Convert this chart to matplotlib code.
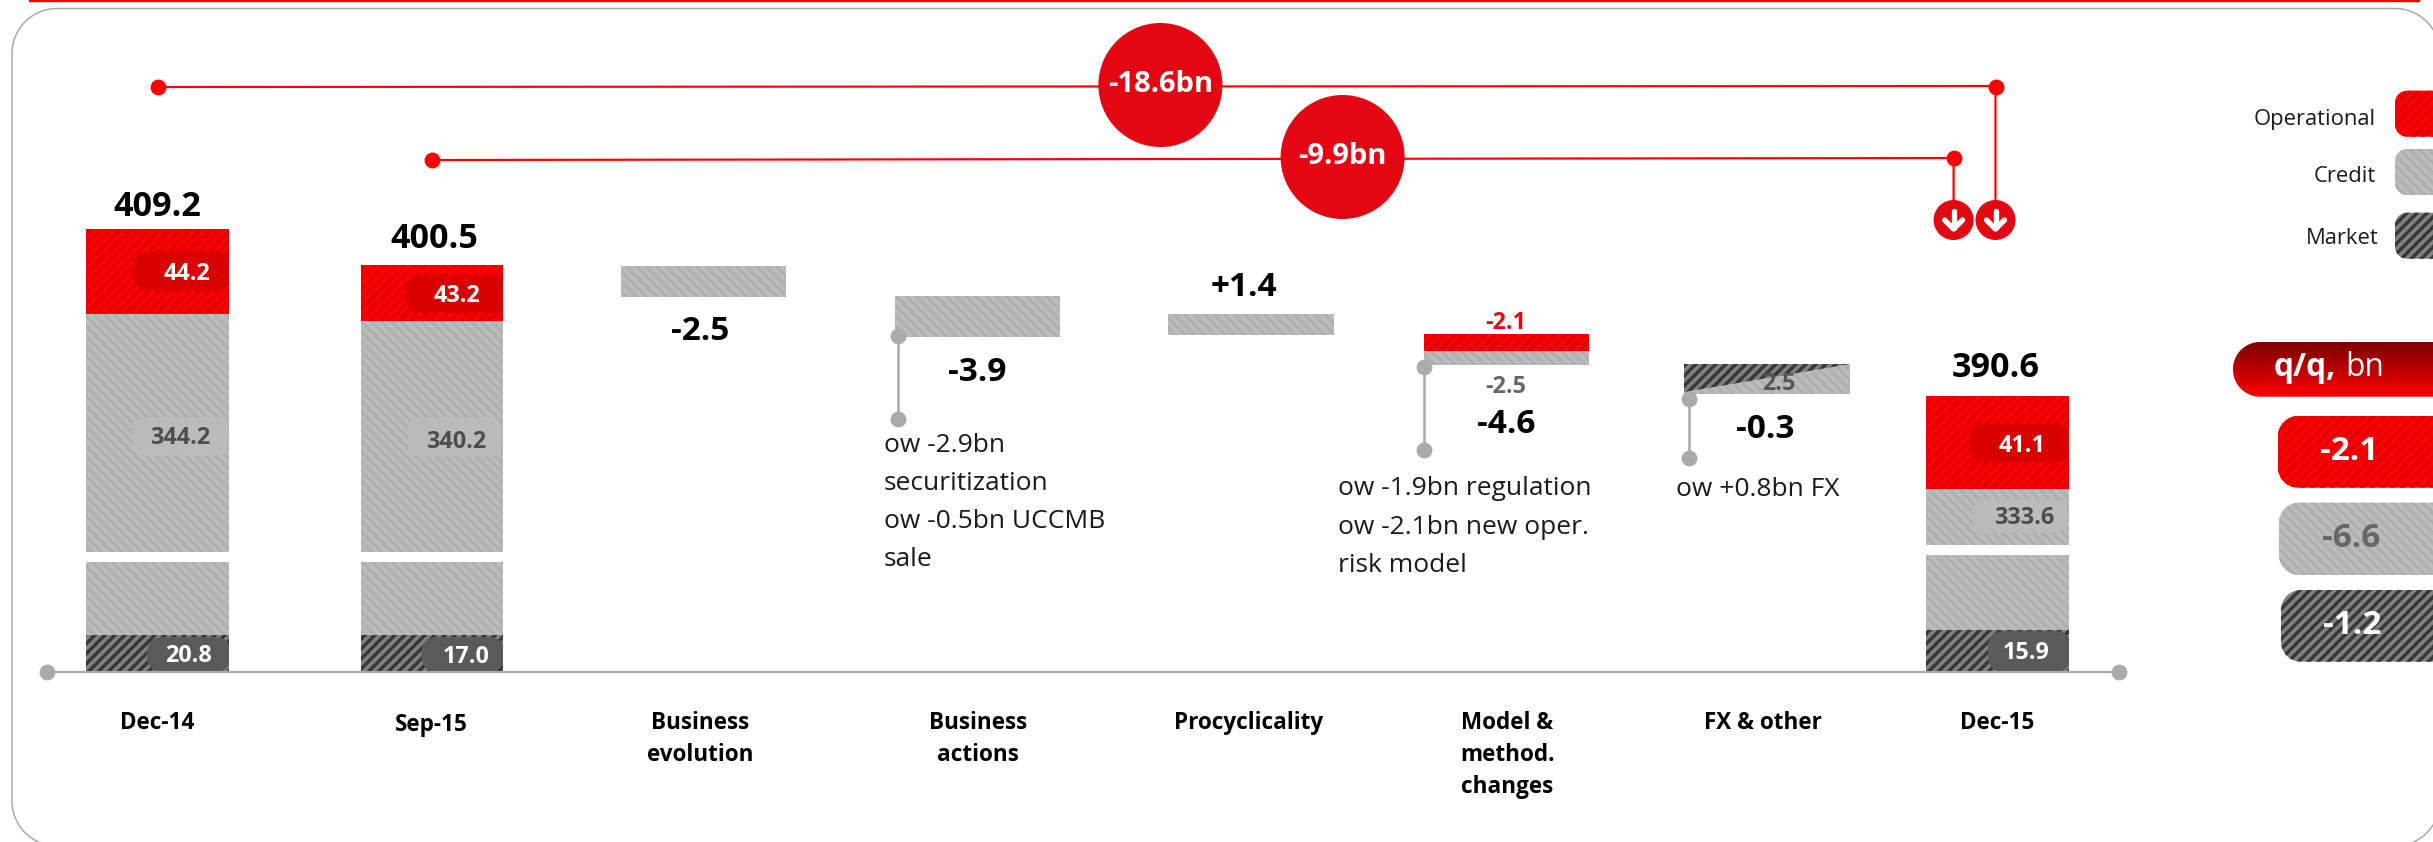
import numpy as np
import matplotlib
matplotlib.use("Agg")
import matplotlib.pyplot as plt
from matplotlib.patches import FancyBboxPatch, Polygon
from matplotlib.colors import LinearSegmentedColormap

plt.rcParams['font.family'] = ['Open Sans', 'DejaVu Sans']
plt.rcParams['hatch.linewidth'] = 2.1

# Data: the chart is not to scale, so drawn heights are read separately from labels
stack_names = ["Dec-14", "Sep-15", "Dec-15"]
stack_totals = ["409.2", "400.5", "390.6"]
operational = ["44.2", "43.2", "41.1"]
credit = ["344.2", "340.2", "333.6"]
market = ["20.8", "17.0", "15.9"]
market_h = [37, 37, 42]
credit_low_h = [73, 73, 75]
credit_high_h = [238, 231, 56]
operational_h = [85, 56, 93]

step_names = ["Business\nevolution", "Business\nactions", "Procyclicality",
              "Model &\nmethod.\nchanges", "FX & other"]
step_labels = ["-2.5", "-3.9", "+1.4", "-4.6", "-0.3"]
step_tops = [266, 296, 314, 334, 364]
step_heights = [31, 41, 21, 31, 30]
model_split_h = 17  # red part of the model bar

notes = ["ow -2.9bn\nsecuritization\now -0.5bn UCCMB\nsale",
         "ow -1.9bn regulation\now -2.1bn new oper.\nrisk model",
         "ow +0.8bn FX"]
bubbles = ["-18.6bn", "-9.9bn"]
legend_names = ["Operational", "Credit", "Market"]
qq_values = ["-2.1", "-6.6", "-1.2"]

# Styles
RED, RED_ST, RED_PILL = "#ff0000", "#e20000", "#d90000"
GREY, GREY_ST, GREY_PILL = "#bcbcbc", "#b0b0b0", "#bbbbbb"
DARK, DARK_ST, DARK_PILL = "#808080", "#383838", "#5a5a5a"
FWD, BACK = "////", "\\\\\\\\"
BUBBLE = "#e30613"
LINE_GREY = "#aaaaaa"
base = 672.4

fig = plt.figure(figsize=(2433 / 120, 842 / 120), dpi=120)
ax = fig.add_axes([0, 0, 1, 1])
ax.set_xlim(0, 2433)
ax.set_ylim(842, 0)
ax.axis("off")


def hbar(x0, x1, top, h, color, stripe, hatch, z=2):
    return ax.bar(x0, h, width=x1 - x0, bottom=top, align="edge", color=color, edgecolor=stripe,
                  hatch=hatch, linewidth=0, zorder=z)[0]


def pill(x0, x1, y0, y1, r, color, clip=None, z=3):
    p = FancyBboxPatch((x0, y0), x1 - x0, y1 - y0, boxstyle=f"round,pad=0,rounding_size={r}",
                       facecolor=color, linewidth=0, zorder=z)
    ax.add_patch(p)
    if clip is not None:
        p.set_clip_path(clip)
    return p


def corner_pts(x0, y0, y1, r):
    # left side of a box running off the right edge of the canvas
    t = np.linspace(0, np.pi / 2, 16)
    top = [(x0 + r - r * np.cos(a), y0 + r - r * np.sin(a)) for a in t]
    bottom = [(x0 + r - r * np.sin(a), y1 - r + r * np.cos(a)) for a in t]
    return bottom + top


def edge_box(x0, y0, y1, r, color, stripe=None, hatch=None, z=3):
    pts = [(2433, y1)] + corner_pts(x0, y0, y1, r) + [(2433, y0)]
    p = Polygon(pts, closed=True, facecolor=color, edgecolor=stripe if stripe else color,
                hatch=hatch, linewidth=0, zorder=z)
    ax.add_patch(p)
    return p


def txt(x, y, s, size, color="black", weight="normal", ha="center", z=6):
    # +3: Open Sans sits a little higher than the original face
    return ax.text(x, y + 3, s, fontsize=size, color=color, fontweight=weight, ha=ha, va="center", zorder=z)


# frame and top rule
a = np.linspace(0, np.pi / 2, 24)
fx0, fx1, fy0, fy1, fr = 12, 2440, 8.5, 846, 45
frame_x = np.r_[fx0 + fr - fr * np.sin(a), fx0 + fr - fr * np.cos(a), fx1 - fr + fr * np.sin(a), fx1 - fr + fr * np.cos(a)]
frame_y = np.r_[fy1 - fr + fr * np.cos(a), fy0 + fr - fr * np.sin(a), fy0 + fr - fr * np.cos(a), fy1 - fr + fr * np.sin(a)]
ax.plot(frame_x, frame_y, color="#a8a8a8", lw=0.9, zorder=1)
ax.plot([30, 2419], [0.5, 0.5], color=RED, lw=1.4, zorder=1)

# baseline
ax.plot([47.4, 2119.4], [base, base], color=LINE_GREY, lw=1.3, zorder=4, solid_capstyle="butt")
ax.plot([47.4, 2119.4], [base, base], "o", color=LINE_GREY, ms=9.5, mew=0, zorder=4)

# stacked bars
stack_x = [(86, 229), (361, 503), (1926, 2069)]
total_pos = [(157, 204), (434, 236), (1996, 365)]
name_pos = [(157, 719.6), (431, 721.8), (1997.5, 719.6)]
op_pill = [(133, 251.7, 290.7, 186.7, 271.7), (405.6, 275.5, 313, 456.6, 294.3), (1969.6, 424, 462, 2022.5, 443.6)]
cr_pill = [(133, 417.8, 455.4, 180, 435.5), (408, 418, 456.5, 456.6, 439.8), (1973.6, 499.5, 532.8, 2024, 516)]
mk_pill = [(147, 637, 672, 189, 653.6), (421.4, 637, 672, 466, 654.7), (1988, 631, 672, 2025.8, 651)]
gap = 10.5

for i in range(3):
    x0, x1 = stack_x[i]
    mk_top = base - market_h[i]
    low_top = mk_top - credit_low_h[i]
    high_top = low_top - gap - credit_high_h[i]
    op_top = high_top - operational_h[i]
    mk_bar = hbar(x0, x1, mk_top, market_h[i], DARK, DARK_ST, FWD)
    hbar(x0, x1, low_top, credit_low_h[i], GREY, GREY_ST, BACK)
    cr_bar = hbar(x0, x1, high_top, credit_high_h[i], GREY, GREY_ST, BACK)
    op_bar = hbar(x0, x1, op_top, operational_h[i], RED, RED_ST, FWD)

    px, py0, py1, tx, ty = op_pill[i]
    pill(px, x1 + 2, py0, py1, 17, RED_PILL, clip=op_bar)
    txt(tx, ty - 1, operational[i], 14, "white", "bold")
    px, py0, py1, tx, ty = cr_pill[i]
    pill(px, x1 - 1, py0, py1, 12, GREY_PILL, clip=cr_bar)
    txt(tx, ty - 1, credit[i], 14, "#4d4d4d", "bold")
    px, py0, py1, tx, ty = mk_pill[i]
    pill(px, x1 + 2, py0, py1, 17, DARK_PILL, clip=mk_bar)
    txt(tx, ty - 1, market[i], 14, "white", "bold")

    txt(*total_pos[i], stack_totals[i], 20.5, weight="bold")
    txt(*name_pos[i], stack_names[i], 13.5, weight="bold")

# floating steps
step_x = [(621, 786), (895, 1060), (1168, 1334), (1424, 1588.6), (1684, 1850)]
label_pos = [(700, 328.7), (977, 369.5), (1244.4, 284.6), (1506, 421.6), (1765, 426)]
name_x = [700, 977.8, 1249, 1507, 1763]

for i in range(5):
    x0, x1 = step_x[i]
    if i == 3:
        hbar(x0, x1, step_tops[i], model_split_h, RED, RED_ST, FWD)
        hbar(x0, x1, step_tops[i] + model_split_h, step_heights[i] - model_split_h, GREY, GREY_ST, BACK)
    else:
        hbar(x0, x1, step_tops[i], step_heights[i], GREY, GREY_ST, BACK)
    txt(*label_pos[i], step_labels[i], 20, weight="bold")
    for j, line in enumerate(step_names[i].split("\n")):
        txt(name_x[i], 719.6 + 32 * j, line, 13.5, weight="bold")

# FX wedge
x0, x1 = step_x[4]
wedge = Polygon([(x0, step_tops[4]), (x1, step_tops[4]), (x0, step_tops[4] + step_heights[4] - 2)],
                facecolor=DARK, edgecolor=DARK_ST, hatch=FWD, linewidth=0, zorder=3)
ax.add_patch(wedge)
txt(1779, 381, "2.5", 14, "#555555", "bold")
txt(1505.7, 320, "-2.1", 14, BUBBLE, "bold")
txt(1505.7, 384, "-2.5", 14, "#666666", "bold")

# grey note connectors
for cx, y0, y1 in [(898, 335.7, 419.4), (1424, 367.4, 450), (1688.5, 398.5, 458)]:
    ax.plot([cx, cx], [y0, y1], "-o", color=LINE_GREY, lw=1.5, ms=9.5, mew=0, zorder=5)

note_pos = [(883.5, [443, 481, 519, 557.5]), (1337.7, [486.6, 525, 563.4]), (1675.5, [487])]
for note, (nx, ys) in zip(notes, note_pos):
    for line, ny in zip(note.split("\n"), ys):
        txt(nx, ny - 1, line, 15.8, "#1a1a1a", ha="left")

# red brackets
ax.plot([157.6, 1995.5, 1995.5], [87, 86, 220], color=RED, lw=1.3, zorder=3)
ax.plot([432, 1953.6, 1953.6], [160, 158, 220], color=RED, lw=1.3, zorder=3)
ax.plot([157.6, 432, 1995.5, 1953.6], [87, 160, 87, 158], "o", color=RED, ms=9.5, mew=0, zorder=4)

for (bx, by), label in zip([(1160.4, 85), (1342.6, 157)], bubbles):
    ax.add_patch(plt.Circle((bx, by), 62, color=BUBBLE, zorder=5, linewidth=0))
    txt(bx, by - 3, label, 17.5, "white", "bold")

for arrow_x in [1953.6, 1995.5]:
    ax.add_patch(plt.Circle((arrow_x, 220), 20, color=BUBBLE, zorder=5, linewidth=0))
    ax.plot([arrow_x, arrow_x], [211, 228], color="white", lw=3.2, solid_capstyle="round", zorder=6)
    ax.plot([arrow_x - 9, arrow_x, arrow_x + 9], [220, 229, 220], color="white", lw=3.2,
            solid_capstyle="round", solid_joinstyle="round", zorder=6)

# legend swatches
legend_styles = [(RED, RED_ST, FWD), (GREY, GREY_ST, BACK), (DARK, DARK_ST, FWD)]
legend_y = [90.7, 149, 212.7]
legend_text = [(2376, 116), (2376, 173), (2379, 236)]
for name, (fc, st, hatch), ly, (tx, ty) in zip(legend_names, legend_styles, legend_y, legend_text):
    edge_box(2395, ly, ly + 46, 12, fc, st, hatch)
    txt(tx, ty, name, 13.2, "#1a1a1a", ha="right")

# q/q panel
head = edge_box(2233, 342, 396.7, 27, "none")
cmap = LinearSegmentedColormap.from_list("qq", ["#7a0000", "#ff0000"])
img = ax.imshow(np.linspace(0, 1, 64).reshape(-1, 1), cmap=cmap, extent=(2233, 2433, 396.7, 342),
                aspect="auto", zorder=3)
img.set_clip_path(head)
ax.set_xlim(0, 2433)
ax.set_ylim(842, 0)
txt(2274, 365, "q/q,", 19, "white", "bold", ha="left")
txt(2345, 365, "bn", 19, "white", ha="left")

qq_styles = [(RED, RED_ST, FWD, "white"), (GREY, GREY_ST, BACK, "#666666"), (DARK, DARK_ST, FWD, "white")]
qq_box = [(2278, 416, 487.7, 2349), (2279, 502.7, 575, 2351), (2281, 590, 661.7, 2352)]
for value, (fc, st, hatch, tc), (qx, y0, y1, tx) in zip(qq_values, qq_styles, qq_box):
    edge_box(qx, y0, y1, 20, fc, st, hatch)
    txt(tx, (y0 + y1) / 2 - 3, value, 20, tc, "bold")

fig.savefig("out.png", dpi=120, facecolor="white")
